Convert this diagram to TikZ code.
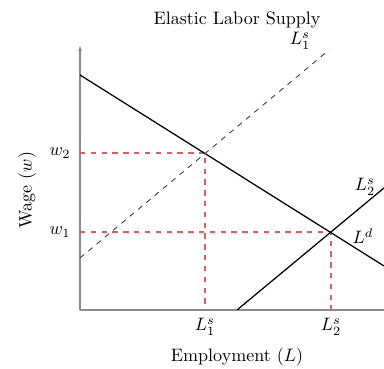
\documentclass[tikz,border=0pt]{standalone}
\usepackage{amsmath}
\usetikzlibrary{arrows.meta,positioning,calc}
\definecolor{guidered}{RGB}{228,90,90}

\begin{document}
\begin{tikzpicture}[x=0.195cm, y=0.195cm,
  axis/.style={draw=gray!90, line width=0.8pt},
  curve/.style={draw=black, line width=0.7pt},
  supply/.style={draw=black!75, dashed, line width=0.5pt},
  guide/.style={draw=guidered, dashed, line width=0.6pt},
  >={Stealth[length=3pt]}]
  \useasboundingbox (-8,-5.9) rectangle (30.4,31);
  % axes
  \coordinate (O) at (0,0);
  \coordinate (Ytop) at (0,26.4);
  \coordinate (Xend) at (30.4,0);
  \draw[axis,->] (O) -- (Ytop);
  \draw[axis] (O) -- (Xend);
  % curves
  \coordinate (Dstart) at (0,23.5);
  \coordinate (Dend) at (30.4,4.4);
  \coordinate (S1start) at (0,5.2);
  \coordinate (S1end) at (24.9,26.0);
  \coordinate (S2start) at (15.7,0);
  \coordinate (S2end) at (30.4,12.2);
  \coordinate (E2) at (12.5,15.7);
  \coordinate (E1) at (25.1,7.8);
  \draw[guide] (E2 -| O) -- (E2) -- (E2 |- O);
  \draw[guide] (E1 -| O) -- (E1) -- (E1 |- O);
  \draw[curve] (Dstart) -- (Dend);
  \draw[supply] (S1start) -- (S1end);
  \draw[curve] (S2start) -- (S2end);
  % labels
  \node (ls1) at (22.0,26.9) {$L^s_1$};
  \node (ls2) at (28.5,12.3) {$L^s_2$};
  \node (ld) at (28.3,7.4) {$L^d$};
  \node (w2) at (-2.0,15.7) {$w_2$};
  \node (w1) at (-2.0,7.8) {$w_1$};
  \node (l1) at (12.5,-1.7) {$L^s_1$};
  \node (l2) at (25.1,-1.7) {$L^s_2$};
  \node (xlab) at (15.7,-4.7) {Employment $(L)$};
  \node[rotate=90] (ylab) at (-5.3,12.0) {Wage $(w)$};
  \node (title) at (15.7,29.0) {Elastic Labor Supply};
\end{tikzpicture}
\end{document}
